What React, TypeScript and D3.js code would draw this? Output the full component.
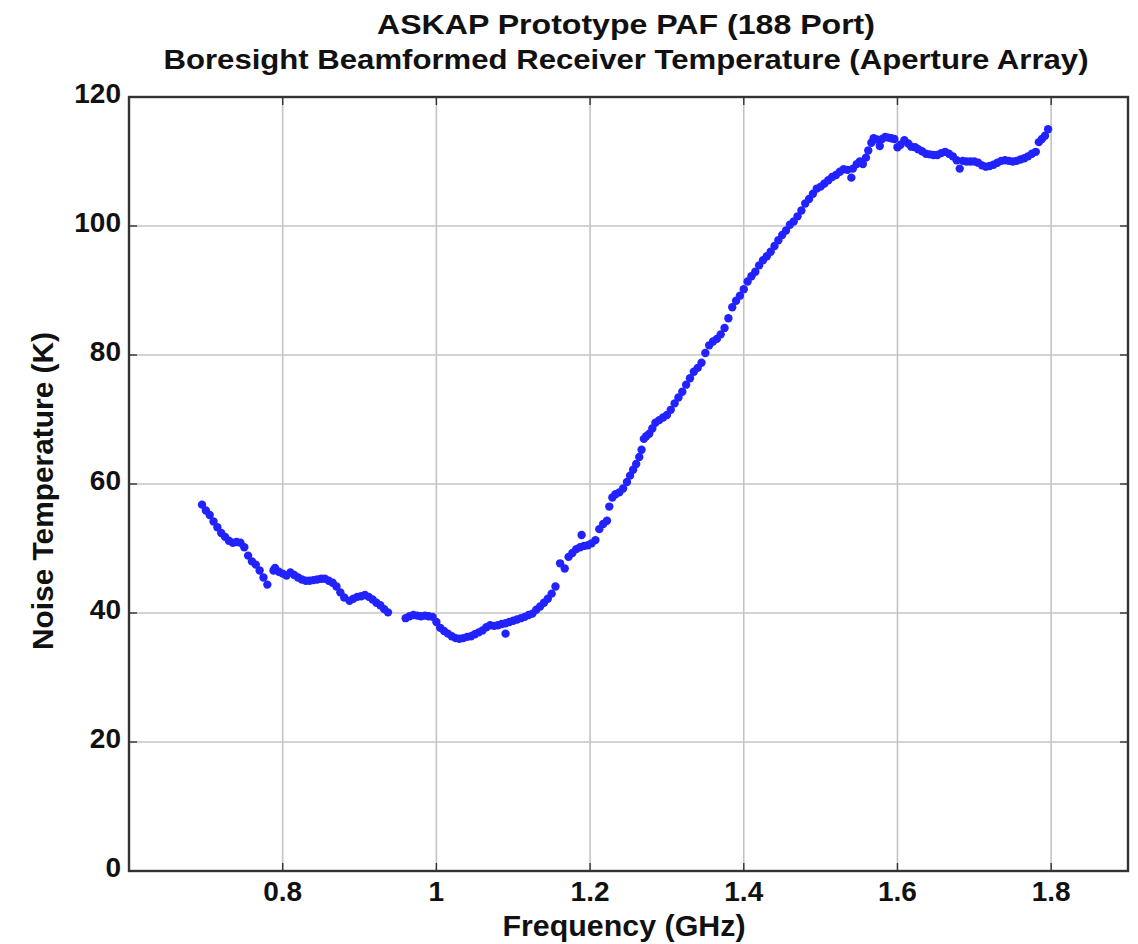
import React from "react";
import * as d3 from "d3";

// Boresight beamformed receiver temperature of the ASKAP prototype PAF (188 ports)
const freqGHz: number[] = [
  0.695, 0.700, 0.705, 0.710, 0.715, 0.720, 0.725, 0.730, 0.735, 0.740,
  0.745, 0.750, 0.755, 0.760, 0.765, 0.770, 0.775, 0.780,
  0.788, 0.790, 0.795, 0.800, 0.805, 0.810, 0.815, 0.820, 0.825, 0.830,
  0.835, 0.840, 0.845, 0.850, 0.855, 0.860, 0.865, 0.870, 0.875, 0.880,
  0.887, 0.892, 0.897, 0.902, 0.907, 0.912, 0.917, 0.922, 0.927, 0.932, 0.937,
  0.960, 0.965, 0.970, 0.975, 0.980, 0.985, 0.990, 0.995, 1.000, 1.005,
  1.010, 1.015, 1.020, 1.025, 1.030, 1.035, 1.040, 1.045, 1.050, 1.055,
  1.060, 1.065, 1.070, 1.075, 1.080, 1.085, 1.090, 1.090, 1.095, 1.100,
  1.105, 1.110, 1.115, 1.120, 1.125, 1.130, 1.135, 1.140, 1.145, 1.150, 1.155,
  1.161, 1.167, 1.172, 1.177, 1.182, 1.187, 1.189, 1.192, 1.197, 1.202, 1.207,
  1.212, 1.217, 1.222, 1.225, 1.229, 1.233, 1.238, 1.243, 1.248, 1.252,
  1.256, 1.260, 1.264, 1.267, 1.270, 1.273, 1.277, 1.281, 1.285, 1.290,
  1.295, 1.300, 1.305, 1.310, 1.315, 1.320, 1.325, 1.330, 1.335, 1.340,
  1.345, 1.350, 1.355, 1.360, 1.365, 1.370, 1.375, 1.380, 1.385, 1.390,
  1.395, 1.400, 1.405, 1.410, 1.415, 1.420, 1.425, 1.430, 1.435, 1.440,
  1.445, 1.450, 1.455, 1.460, 1.465, 1.470, 1.475, 1.480, 1.485, 1.490,
  1.495, 1.500, 1.505, 1.510, 1.515, 1.520, 1.525, 1.530, 1.535, 1.540,
  1.542, 1.547, 1.551, 1.555, 1.559, 1.562, 1.566, 1.569, 1.573, 1.577,
  1.580, 1.584, 1.588, 1.592, 1.596, 1.600, 1.604, 1.609, 1.614, 1.618,
  1.623, 1.627, 1.632, 1.637, 1.642, 1.647, 1.652, 1.657, 1.662, 1.667,
  1.672, 1.677, 1.681, 1.685, 1.690, 1.695, 1.700, 1.705, 1.710, 1.715,
  1.720, 1.725, 1.730, 1.735, 1.740, 1.745, 1.750, 1.755, 1.760, 1.765,
  1.770, 1.775, 1.780, 1.784, 1.788, 1.792, 1.796,
];

const noiseK: number[] = [
  56.8, 55.9, 55.2, 54.2, 53.3, 52.4, 51.8, 51.2, 50.9, 51.0,
  50.9, 50.2, 48.9, 48.0, 47.5, 46.6, 45.5, 44.4,
  46.6, 47.0, 46.4, 46.1, 45.8, 46.3, 45.9, 45.5, 45.2, 45.0,
  45.0, 45.1, 45.2, 45.3, 45.3, 45.0, 44.7, 44.1, 43.2, 42.4,
  41.9, 42.2, 42.5, 42.6, 42.8, 42.5, 42.1, 41.6, 41.2, 40.6, 40.1,
  39.2, 39.5, 39.7, 39.6, 39.5, 39.6, 39.5, 39.4, 38.6, 37.7,
  37.2, 36.8, 36.4, 36.1, 36.0, 36.1, 36.3, 36.4, 36.7, 37.0,
  37.3, 37.8, 38.1, 38.0, 38.1, 38.3, 36.8, 38.4, 38.6, 38.8,
  39.0, 39.2, 39.4, 39.7, 39.9, 40.5, 41.0, 41.6, 42.2, 43.0, 44.1,
  47.7, 46.9, 48.7, 49.3, 49.9, 50.2, 52.1, 50.4, 50.5, 50.8, 51.3,
  53.0, 53.8, 54.3, 56.5, 57.9, 58.4, 58.7, 59.3, 60.3, 61.3,
  62.2, 63.1, 64.2, 65.3, 67.0, 67.4, 67.8, 68.6, 69.5, 69.9,
  70.3, 70.7, 71.5, 72.5, 73.4, 74.3, 75.4, 76.4, 77.4, 78.0,
  78.8, 80.3, 81.5, 82.1, 82.5, 83.2, 84.2, 85.7, 87.4, 88.4,
  89.2, 90.2, 91.4, 92.2, 92.9, 93.9, 94.7, 95.3, 96.0, 96.9,
  97.8, 98.6, 99.3, 100.2, 100.7, 101.5, 102.4, 103.5, 104.2, 105.0,
  105.8, 106.1, 106.6, 107.1, 107.6, 107.9, 108.4, 108.8, 108.7, 107.5,
  108.9, 109.6, 110.0, 109.6, 110.6, 111.7, 112.9, 113.6, 113.4, 112.4,
  113.5, 113.8, 113.7, 113.6, 113.5, 112.2, 112.6, 113.3, 112.8, 112.3,
  112.2, 111.9, 111.6, 111.2, 111.1, 111.0, 111.0, 111.3, 111.5, 111.2,
  110.8, 110.2, 108.9, 110.1, 110.0, 110.0, 110.0, 109.8, 109.4, 109.2,
  109.3, 109.5, 109.8, 110.1, 110.2, 110.1, 110.0, 110.1, 110.3, 110.5,
  110.8, 111.2, 111.5, 113.0, 113.5, 114.0, 115.0,
];

const xTicks: number[] = [0.8, 1.0, 1.2, 1.4, 1.6, 1.8];
const yTicks: number[] = [0, 20, 40, 60, 80, 100, 120];
const titleLines: string[] = [
  "ASKAP Prototype PAF (188 Port)",
  "Boresight Beamformed Receiver Temperature (Aperture Array)",
];
const xLabel = "Frequency (GHz)";
const yLabel = "Noise Temperature (K)";

const W = 1138;
const H = 944;
const plot = { left: 129, right: 1128, top: 97, bottom: 871 };
const FONT = "'Liberation Sans', Arial, Helvetica, sans-serif";

export default function App() {
  const x = d3.scaleLinear().domain([0.6, 1.9]).range([plot.left, plot.right]);
  const y = d3.scaleLinear().domain([0, 120]).range([plot.bottom, plot.top]);
  const fmtX = (v: number) => (v === 1 ? "1" : d3.format(".1f")(v));
  const tick = 8;

  return (
    <svg
      width={W}
      height={H}
      style={{ position: "absolute", left: 0, top: 0, background: "#fff" }}
      fontFamily={FONT}
    >
      <defs>
        <filter id="soft" x="-5%" y="-5%" width="110%" height="110%">
          <feGaussianBlur stdDeviation={0.6} />
        </filter>
      </defs>
      <rect x={0} y={0} width={W} height={H} fill="#fff" />

      {/* grid */}
      <g stroke="#c4c4c4" strokeWidth={1.6}>
        {xTicks.map((t) => (
          <line key={"gx" + t} x1={x(t)} x2={x(t)} y1={plot.top} y2={plot.bottom} />
        ))}
        {yTicks.map((t) => (
          <line key={"gy" + t} x1={plot.left} x2={plot.right} y1={y(t)} y2={y(t)} />
        ))}
      </g>

      {/* data points */}
      <g fill="#2424ff" filter="url(#soft)">
        {freqGHz.map((f, i) => (
          <circle key={i} cx={x(f)} cy={y(noiseK[i])} r={4.2} />
        ))}
      </g>

      {/* inward ticks on all four sides */}
      <g stroke="#333" strokeWidth={1.4}>
        {xTicks.map((t) => (
          <g key={"tx" + t}>
            <line x1={x(t)} x2={x(t)} y1={plot.bottom} y2={plot.bottom - tick} />
            <line x1={x(t)} x2={x(t)} y1={plot.top} y2={plot.top + tick} />
          </g>
        ))}
        {yTicks.map((t) => (
          <g key={"ty" + t}>
            <line x1={plot.left} x2={plot.left + tick} y1={y(t)} y2={y(t)} />
            <line x1={plot.right} x2={plot.right - tick} y1={y(t)} y2={y(t)} />
          </g>
        ))}
      </g>

      {/* frame */}
      <rect
        x={plot.left}
        y={plot.top}
        width={plot.right - plot.left}
        height={plot.bottom - plot.top}
        fill="none"
        stroke="#333"
        strokeWidth={2.4}
      />

      {/* tick labels */}
      <g fontSize={28} fontWeight="bold" fill="#111">
        {xTicks.map((t) => (
          <text key={"lx" + t} x={x(t)} y={901} textAnchor="middle">
            {fmtX(t)}
          </text>
        ))}
        {yTicks.map((t) => (
          <text key={"ly" + t} x={121} y={y(t) + 6} textAnchor="end">
            {t}
          </text>
        ))}
      </g>

      {/* title */}
      <g fontSize={28} fontWeight="bold" fill="#111" textAnchor="middle">
        <text x={626} y={34} textLength={498} lengthAdjust="spacingAndGlyphs">
          {titleLines[0]}
        </text>
        <text x={626} y={69} textLength={925} lengthAdjust="spacingAndGlyphs">
          {titleLines[1]}
        </text>
      </g>

      {/* axis labels */}
      <text
        x={624}
        y={936}
        fontSize={29}
        fontWeight="bold"
        fill="#111"
        textAnchor="middle"
        textLength={243}
        lengthAdjust="spacingAndGlyphs"
      >
        {xLabel}
      </text>
      <text
        transform={`translate(53, 491) rotate(-90)`}
        fontSize={29}
        fontWeight="bold"
        fill="#111"
        textAnchor="middle"
        textLength={318}
        lengthAdjust="spacingAndGlyphs"
      >
        {yLabel}
      </text>
    </svg>
  );
}
